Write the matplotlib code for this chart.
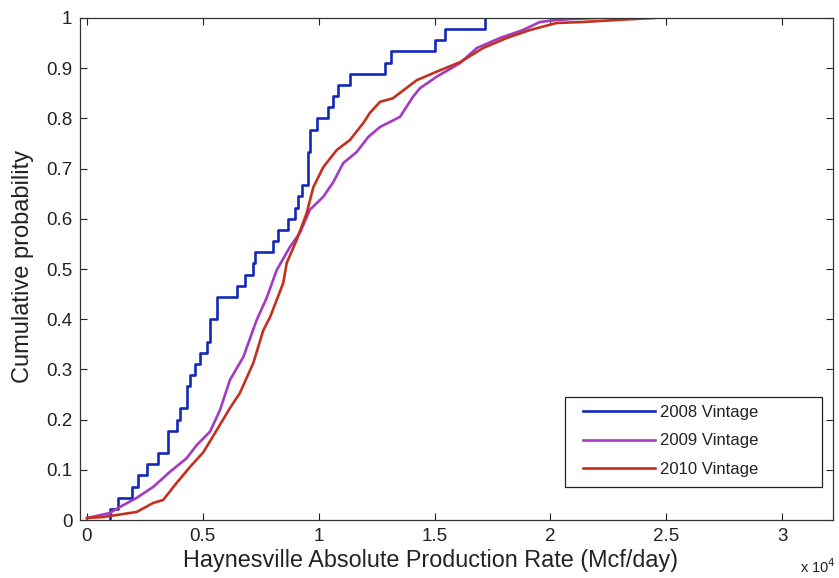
import numpy as np
import matplotlib
matplotlib.use("Agg")
import matplotlib.pyplot as plt
from matplotlib.patches import Rectangle

plt.rcParams['font.family'] = ['Liberation Sans', 'DejaVu Sans']

SCALE = 1e4

# 2008 vintage: individual well rates (x 10^4 Mcf/day), empirical CDF
rates_2008 = [0.099, 0.134, 0.193, 0.221, 0.258, 0.308, 0.351, 0.351, 0.387,
              0.401, 0.430, 0.430, 0.445, 0.466, 0.488, 0.517, 0.531, 0.531,
              0.560, 0.560, 0.646, 0.682, 0.718, 0.725, 0.804, 0.826, 0.869,
              0.898, 0.912, 0.927, 0.955, 0.955, 0.955, 0.962, 0.962, 0.991,
              1.040, 1.062, 1.083, 1.135, 1.286, 1.312, 1.502, 1.545, 1.718]

# 2009 vintage: CDF curve (rate x 10^4, cumulative probability)
rate_2009 = [0.0, 0.099, 0.142, 0.214, 0.286, 0.358, 0.430, 0.473, 0.531,
             0.574, 0.617, 0.675, 0.732, 0.776, 0.819, 0.876, 0.919, 0.962,
             1.020, 1.063, 1.106, 1.164, 1.214, 1.265, 1.351, 1.407, 1.437,
             1.509, 1.610, 1.682, 1.782, 1.882, 1.955, 2.027, 2.100, 2.200]
prob_2009 = [0.004, 0.014, 0.026, 0.044, 0.066, 0.096, 0.123, 0.149, 0.176,
             0.219, 0.279, 0.325, 0.398, 0.443, 0.498, 0.544, 0.572, 0.618,
             0.644, 0.673, 0.711, 0.733, 0.763, 0.783, 0.803, 0.843, 0.860,
             0.883, 0.910, 0.940, 0.960, 0.976, 0.992, 0.996, 0.998, 1.0]

# 2010 vintage: CDF curve (rate x 10^4, cumulative probability)
rate_2010 = [0.0, 0.070, 0.214, 0.286, 0.329, 0.387, 0.445, 0.502, 0.560,
             0.617, 0.660, 0.718, 0.761, 0.790, 0.847, 0.862, 0.905, 0.948,
             0.977, 1.020, 1.078, 1.135, 1.193, 1.221, 1.265, 1.320, 1.423,
             1.509, 1.610, 1.709, 1.811, 1.912, 2.027, 2.140, 2.286, 2.450]
prob_2010 = [0.004, 0.006, 0.016, 0.034, 0.040, 0.074, 0.106, 0.135, 0.179,
             0.223, 0.253, 0.313, 0.378, 0.404, 0.472, 0.512, 0.558, 0.611,
             0.663, 0.703, 0.737, 0.757, 0.791, 0.811, 0.833, 0.840, 0.876,
             0.893, 0.912, 0.940, 0.960, 0.976, 0.990, 0.992, 0.996, 1.0]

labels = ['2008 Vintage', '2009 Vintage', '2010 Vintage']
colors = ['#1428b8', '#a23ac4', '#c4301e']

xticks = [0, 0.5, 1, 1.5, 2, 2.5, 3]
yticks = [0, 0.1, 0.2, 0.3, 0.4, 0.5, 0.6, 0.7, 0.8, 0.9, 1]

TXT = '#222222'

fig = plt.figure(figsize=(8.39, 5.78), dpi=100)
ax = fig.add_axes([0.0954, 0.1003, 0.8975, 0.8686])

# empirical CDF as stairs
r08 = np.sort(np.asarray(rates_2008)) * SCALE
n = len(r08)
xs = np.concatenate([[r08[0]], r08])
ys = np.concatenate([[0.0], np.arange(1, n + 1) / n])
ax.step(xs, ys, where='post', color=colors[0], lw=1.9, label=labels[0])

ax.plot(np.asarray(rate_2009) * SCALE, prob_2009, color=colors[1], lw=1.9,
        label=labels[1])
ax.plot(np.asarray(rate_2010) * SCALE, prob_2010, color=colors[2], lw=1.9,
        label=labels[2])

ax.set_xlim(-0.03 * SCALE, 3.22 * SCALE)
ax.set_ylim(0, 1)
ax.set_xticks([t * SCALE for t in xticks])
ax.set_xticklabels([('%g' % t) for t in xticks])
ax.set_yticks(yticks)
ax.set_yticklabels([('%g' % t) for t in yticks])

ax.tick_params(direction='in', length=5, width=0.8, top=True, right=True,
               labelsize=13.5, colors=TXT, pad=5.5)
for s in ax.spines.values():
    s.set_color('#333333')
    s.set_linewidth(0.9)

ax.set_xlabel('Haynesville Absolute Production Rate (Mcf/day)', fontsize=16.8,
              color=TXT)
ax.xaxis.set_label_coords(0.466, -0.057)
ax.set_ylabel('Cumulative probability', fontsize=17, color=TXT)
ax.yaxis.set_label_coords(-0.061, 0.506)

ax.text(1.003, -0.106, r'x 10$^{4}$', transform=ax.transAxes, ha='right',
        va='baseline', fontsize=10.5, color=TXT)

# legend box and entries
ax.add_patch(Rectangle((0.644, 0.0657), 0.3414, 0.1793, transform=ax.transAxes,
                       facecolor='white', edgecolor=TXT, lw=0.9, zorder=4))
leg = ax.legend(loc='upper left', bbox_to_anchor=(0.668, 0.229), fontsize=12,
                frameon=False, borderpad=0, handlelength=4.3,
                handletextpad=0.3, labelspacing=0.8, borderaxespad=0)
leg.set_zorder(5)
for t in leg.get_texts():
    t.set_color(TXT)

fig.savefig('out.png', dpi=100)
